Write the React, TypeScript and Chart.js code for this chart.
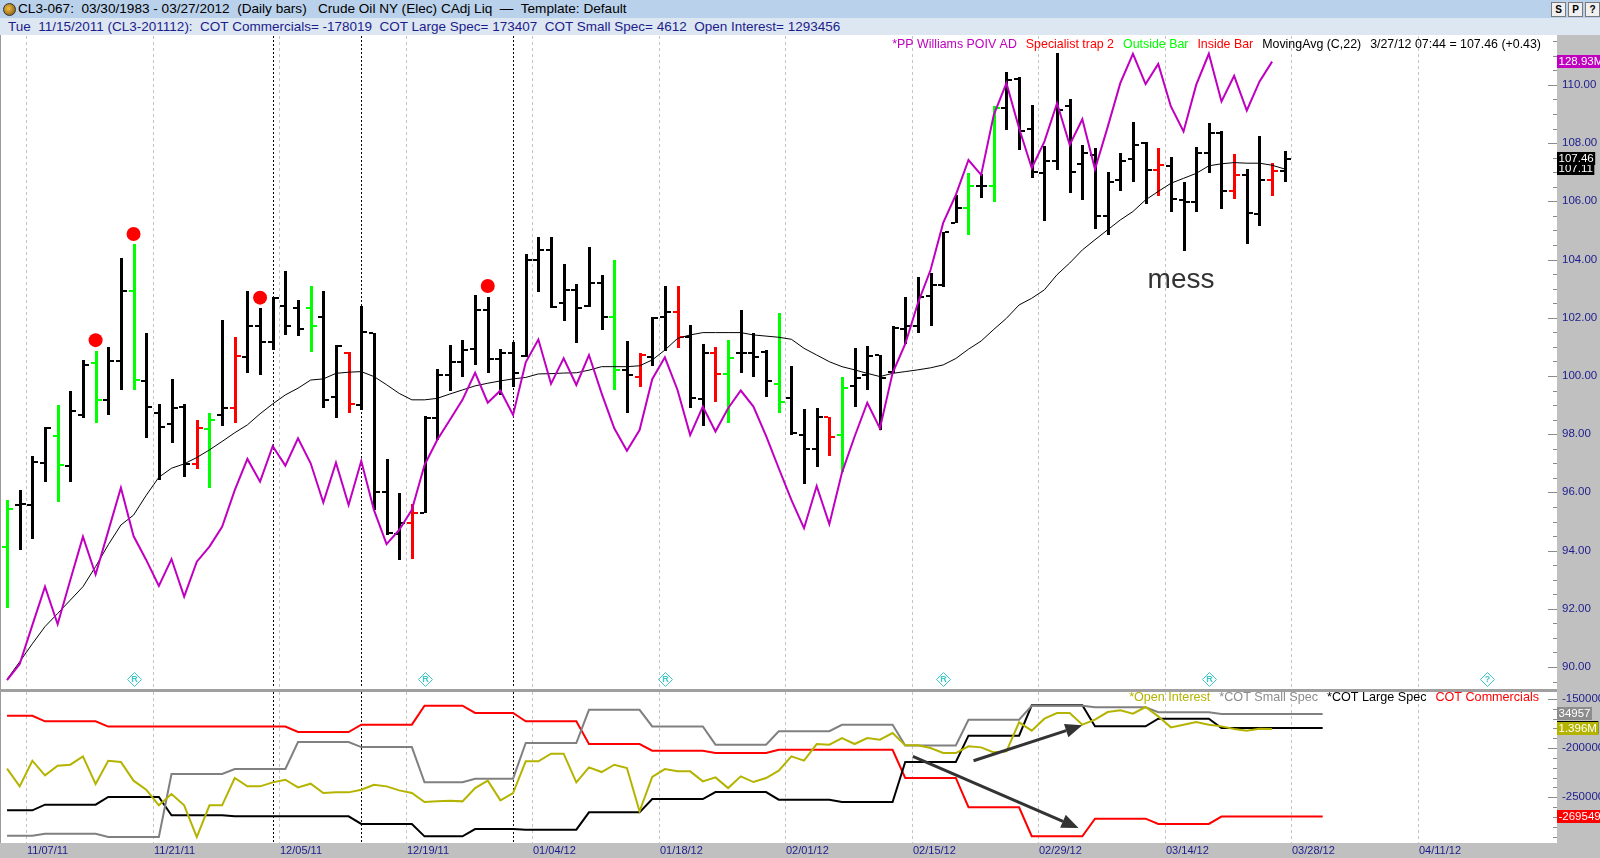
import React, { useEffect, useRef } from 'react';
import { Chart, registerables } from 'chart.js';

Chart.register(...registerables);

const FONT = '"Liberation Sans", Arial, Helvetica, sans-serif';
const NAVY = '#1c1c8c';
const AXIS_GRAY = '#c0c0c0';
const AXIS_LEFT = 1557;
const X_MIN = -0.32;
const X_MAX = 121.81;

// ---------------- x axis ----------------
const dateLabels = ['11/07/11', '11/21/11', '12/05/11', '12/19/11', '01/04/12', '01/18/12', '02/01/12', '02/15/12', '02/29/12', '03/14/12', '03/28/12', '04/11/12'];
const dateLabelBars = [2, 12, 22, 32, 42, 52, 62, 72, 82, 92, 102, 112];
const eventLineBars = [21, 28, 40];

// ---------------- price bars (CL3 daily) ----------------
const opens = [94.13, 95.55, 95.57, 97.02, 97.94, 96.91, 98.66, 100.46, 99.18, 100.5,
  102.93, 99.83, 98.72, 98.35, 98.95, 96.96, 98.17, 98.66, 98.91, 100.66,
  101.7, 101.16, 102.41, 102.35, 102.33, 102.04, 99.29, 100.78, 99.0, 101.47,
  96.03, 94.56, 94.94, 95.28, 98.55, 100.03, 100.49, 100.93, 102.27, 100.58,
  100.78, 100.7, 104.0, 104.33, 102.5, 102.96, 102.4, 103.21, 102.02, 100.21,
  99.98, 100.66, 102.04, 102.21, 101.35, 99.21, 100.78, 100.07, 100.8, 100.78,
  100.84, 99.73, 99.23, 97.97, 97.48, 98.58, 97.97, 99.67, 100.03, 100.72,
  100.15, 101.6, 101.72, 102.75, 103.13, 105.27, 105.76, 106.51, 106.51, 109.2,
  110.19, 108.48, 106.99, 107.4, 109.26, 107.29, 107.59, 105.48, 106.74, 107.45,
  108.02, 107.06, 107.22, 106.03, 105.96, 107.67, 108.34, 106.37, 106.91, 105.57,
  106.74, 107.03];
const highs = [95.74, 96.08, 97.25, 98.24, 99.0, 99.5, 100.55, 100.87, 100.99, 104.07,
  104.52, 101.47, 99.04, 99.89, 99.04, 98.49, 98.72, 101.92, 101.35, 102.92,
  102.33, 102.73, 103.62, 102.61, 103.09, 102.92, 101.07, 100.81, 102.41, 101.47,
  97.14, 95.97, 95.6, 98.63, 100.24, 101.07, 101.24, 102.78, 102.73, 100.92,
  101.18, 104.2, 104.77, 104.77, 103.84, 103.16, 104.44, 103.47, 104.0, 101.21,
  100.78, 102.02, 103.1, 103.1, 101.75, 101.1, 101.01, 101.24, 102.25, 101.49,
  100.89, 102.15, 100.34, 98.85, 98.89, 98.58, 99.98, 100.95, 101.03, 100.72,
  101.7, 102.73, 103.39, 103.53, 104.96, 106.22, 106.99, 106.94, 109.26, 110.46,
  110.26, 109.31, 107.9, 111.09, 109.51, 107.94, 107.82, 107.02, 107.67, 108.71,
  108.05, 107.82, 107.54, 106.68, 107.86, 108.68, 108.4, 107.63, 107.1, 108.25,
  107.31, 107.73];
const lows = [92.03, 94.02, 94.39, 96.37, 95.68, 96.37, 98.55, 98.37, 98.66, 99.52,
  99.52, 97.86, 96.43, 97.69, 96.54, 96.79, 96.14, 98.29, 98.37, 100.09,
  100.03, 100.89, 101.41, 101.39, 100.84, 98.89, 98.55, 98.72, 98.83, 95.4,
  94.54, 93.68, 93.71, 95.28, 97.8, 99.5, 99.98, 100.38, 100.11, 99.35,
  99.63, 100.65, 102.9, 102.33, 101.9, 101.12, 102.36, 101.58, 99.52, 98.72,
  99.63, 100.34, 100.87, 100.95, 98.89, 98.28, 99.12, 98.4, 100.09, 99.98,
  99.29, 98.72, 97.97, 96.29, 96.88, 97.25, 96.71, 98.95, 99.52, 98.14,
  100.09, 101.1, 101.47, 101.72, 103.07, 105.25, 104.85, 106.1, 105.96, 108.45,
  107.77, 106.79, 105.34, 107.08, 106.3, 106.03, 105.04, 104.85, 106.37, 106.68,
  105.91, 106.19, 105.65, 104.31, 105.65, 106.99, 105.73, 106.07, 104.54, 105.15,
  106.19, 106.68];
const closes = [95.43, 95.6, 97.05, 98.2, 96.94, 98.8, 100.38, 99.18, 100.5, 102.93,
  99.86, 98.95, 98.24, 98.91, 96.98, 98.2, 98.49, 98.91, 100.69, 101.7,
  101.16, 102.67, 101.72, 101.62, 101.72, 99.18, 101.03, 99.04, 101.52, 96.03,
  94.59, 94.94, 95.28, 98.55, 100.03, 100.49, 100.89, 102.27, 100.58, 100.78,
  100.09, 104.0, 104.33, 102.36, 102.96, 102.33, 103.21, 102.02, 100.21, 100.03,
  100.72, 101.98, 102.21, 101.35, 99.23, 100.78, 100.07, 100.61, 100.78, 100.66,
  99.84, 99.12, 98.03, 97.48, 98.6, 97.92, 99.58, 99.92, 100.69, 99.92,
  101.64, 101.72, 102.7, 103.14, 104.93, 105.76, 106.51, 106.51, 109.2, 110.17,
  108.4, 107.02, 107.4, 109.14, 107.02, 107.65, 105.5, 106.68, 107.4, 107.94,
  107.06, 107.25, 106.07, 105.96, 107.67, 108.34, 106.37, 106.91, 105.61, 106.74,
  107.03, 107.46];
const outsideBars = [0, 4, 7, 10, 16, 24, 48, 57, 61, 66, 76, 78];
const insideBars = [15, 18, 27, 32, 50, 53, 56, 65, 91, 97, 100];
const specialistTrapBars = [7, 10, 20, 38];
const TRAP_DOT_OFFSET = 0.36;

// PP Williams POIV AD (overlay, expressed on the price pane)
const poivAD = [89.55, 90.1, 91.44, 92.76, 91.47, 92.99, 94.48, 93.18, 94.67, 96.16,
  94.5, 93.68, 92.79, 93.71, 92.42, 93.62, 94.14, 94.82, 96.08, 97.15,
  96.37, 97.59, 96.92, 97.86, 97.0, 95.65, 97.02, 95.57, 97.08, 95.4,
  94.22, 94.71, 95.4, 96.94, 97.8, 98.49, 99.18, 100.11, 99.08, 99.5,
  98.66, 100.47, 101.25, 99.73, 100.61, 99.69, 100.72, 99.4, 98.2, 97.43,
  98.14, 99.89, 100.64, 99.52, 97.97, 98.95, 98.09, 98.89, 99.5, 98.95,
  97.94, 96.83, 95.74, 94.77, 96.22, 94.91, 96.68, 97.92, 99.08, 98.2,
  100.1, 101.1, 102.5, 103.64, 105.26, 106.22, 107.42, 106.91, 108.97, 110.06,
  108.51, 107.14, 108.05, 109.37, 107.94, 108.82, 107.1, 108.55, 110.06, 111.07,
  110.03, 110.72, 109.26, 108.4, 110.0, 111.07, 109.43, 110.31, 109.12, 110.11,
  110.8];
const poivLastLabel = '128.93M';

const movingAvg22 = [89.58, 90.18, 90.8, 91.39, 91.84, 92.3, 92.76, 93.45, 94.2, 94.88,
  95.22, 95.9, 96.52, 96.83, 96.98, 97.2, 97.46, 97.75, 98.05, 98.32,
  98.7, 99.04, 99.35, 99.58, 99.86, 99.9, 100.09, 100.13, 100.15, 99.98,
  99.7, 99.4, 99.18, 99.18, 99.23, 99.38, 99.52, 99.66, 99.75, 99.83,
  99.9, 99.95, 100.07, 100.08, 100.1, 100.11, 100.2, 100.32, 100.32, 100.32,
  100.35, 100.55, 100.89, 101.29, 101.41, 101.49, 101.49, 101.49, 101.49, 101.41,
  101.37, 101.33, 101.26, 100.95, 100.72, 100.49, 100.32, 100.21, 100.09, 99.98,
  100.09, 100.15, 100.21, 100.28, 100.38, 100.6, 100.92, 101.2, 101.6, 101.98,
  102.44, 102.67, 102.96, 103.48, 103.88, 104.33, 104.68, 105.02, 105.36, 105.65,
  106.05, 106.34, 106.62, 106.79, 106.96, 107.22, 107.29, 107.33, 107.31, 107.31,
  107.24, 107.11];

const priceTicks = [90, 92, 94, 96, 98, 100, 102, 104, 106, 108, 110];
const lastBarStamp = '3/27/12 07:44';
const rolloverBars = [10, 33, 52, 74, 95, 117];
const rolloverGlyphs = ['R', 'R', 'R', 'R', 'R', '?'];
const messNote = { text: 'mess', bar: 92.8, price: 103.02 };

// ---------------- COT / open interest pane ----------------
const cotCommercials = [-167000, -167000, -167000,
  -172700, -172700, -172700, -172700, -172700,
  -178019, -178019, -178019, -178019, -178019, -178019, -178019, -178019, -178019, -178019, -178019, -178019, -178019, -178019, -178019,
  -183600, -183600, -183600, -183600, -183600,
  -176100, -176100, -176100, -176100, -176100,
  -156800, -156800, -156800, -156800,
  -164200, -164200, -164200, -164200,
  -172700, -172700, -172700, -172700, -172700,
  -195800, -195800, -195800, -195800, -195800,
  -202600, -202600, -202600, -202600, -202600,
  -204900, -204900, -204900, -204900, -204900,
  -201600, -201600, -201600, -201600, -201600, -201600, -201600, -201600, -201600, -201600,
  -230300, -230300, -230300, -230300, -230300,
  -260100, -260100, -260100, -260100, -260100,
  -289600, -289600, -289600, -289600, -289600,
  -271700, -271700, -271700, -271700, -271700,
  -277100, -277100, -277100, -277100, -277100,
  -269549, -269549, -269549, -269549, -269549, -269549, -269549, -269549, -269549];
const cotLargeSpec = [161600, 161600, 161600,
  166600, 166600, 166600, 166600, 166600,
  173407, 173407, 173407, 173407, 173407,
  157200, 157200, 157200, 157200, 157200,
  156300, 156300, 156300, 156300, 156300, 156300, 156300, 156300, 156300, 156300,
  149500, 149500, 149500, 149500, 149500,
  138500, 138500, 138500, 138500,
  145000, 145000, 145000, 145000,
  144400, 144400, 144400, 144400, 144400,
  159800, 159800, 159800, 159800, 159800,
  171600, 171600, 171600, 171600, 171600,
  177800, 177800, 177800, 177800, 177800,
  171000, 171000, 171000, 171000, 171000,
  169000, 169000, 169000, 169000, 169000,
  204500, 204500, 204500, 204500, 204500,
  227800, 227800, 227800, 227800, 227800,
  254700, 254700, 254700, 254700, 254700,
  236100, 236100, 236100, 236100, 236100,
  242900, 242900, 242900, 242900, 242900,
  234600, 234600, 234600, 234600, 234600, 234600, 234600, 234600, 234600];
const cotSmallSpec = [4900, 4900, 4900,
  5400, 5400, 5400, 5400, 5400,
  4612, 4612, 4612, 4612, 4612,
  20150, 20150, 20150, 20150, 20150,
  21400, 21400, 21400, 21400, 21400,
  28050, 28050, 28050, 28050, 28050,
  26800, 26800, 26800, 26800, 26800,
  18100, 18100, 18100, 18100,
  19000, 19000, 19000, 19000,
  27800, 27800, 27800, 27800, 27800,
  36000, 36000, 36000, 36000, 36000,
  31900, 31900, 31900, 31900, 31900,
  27400, 27400, 27400, 27400, 27400,
  30700, 30700, 30700, 30700, 30700,
  32300, 32300, 32300, 32300, 32300,
  27200, 27200, 27200, 27200, 27200,
  33550, 33550, 33550, 33550, 33550,
  37000, 37000, 37000, 37000, 37000,
  36600, 36600, 36600, 36600, 36600,
  35400, 35400, 35400, 35400, 35400,
  34957, 34957, 34957, 34957, 34957, 34957, 34957, 34957, 34957];
const openInterest = [1267600, 1210400, 1293500, 1246000, 1277300, 1280500, 1307500, 1218000, 1293456, 1289100,
  1228800, 1199600, 1149000, 1185600, 1149000, 1046500, 1149000, 1149000, 1237400, 1210400,
  1210400, 1223400, 1232000, 1207200, 1219100, 1188900, 1191000, 1191000, 1199600, 1215800,
  1210400, 1197500, 1188900, 1159700, 1161900, 1164100, 1161900, 1205000, 1228800, 1165100,
  1188900, 1291300, 1291300, 1316100, 1316100, 1223400, 1271900, 1256800, 1280500, 1269700,
  1129600, 1241000, 1266500, 1259000, 1259000, 1226600, 1239500, 1205000, 1242800, 1224400,
  1237400, 1261100, 1307500, 1293500, 1347400, 1345200, 1366800, 1347400, 1366800, 1361400,
  1383000, 1343100, 1343100, 1334400, 1318300, 1318300, 1339800, 1336600, 1320400, 1323600,
  1417500, 1390500, 1429300, 1447700, 1447700, 1409900, 1426100, 1450900, 1456300, 1445500,
  1467100, 1436900, 1401300, 1409900, 1418500, 1409900, 1404500, 1395900, 1390500, 1397000,
  1396000];
const commTicks = [-150000, -200000, -250000];
const cotArrows = [
  { from: [76.4, -212750], to: [85.0, -176750] },
  { from: [71.6, -208270], to: [84.7, -281200] },
];

const mainLegend = [
  { text: '*PP Williams POIV AD', color: '#c000c0' },
  { text: 'Specialist trap 2', color: '#ff0000' },
  { text: 'Outside Bar', color: '#00ff00' },
  { text: 'Inside Bar', color: '#ff0000' },
  { text: 'MovingAvg (C,22)', color: '#000000' },
];
const lowerLegend = [
  { text: '*Open Interest', color: '#b4b400' },
  { text: '*COT Small Spec', color: '#8c8c8c' },
  { text: '*COT Large Spec', color: '#000000' },
  { text: 'COT Commercials', color: '#ff0000' },
];

// ---------------- helpers ----------------
const pts = (arr: number[]) => arr.map((v, i) => ({ x: i, y: v }));

function drawVerticalGuides(ctx: any, xs: any, top: number, bottom: number) {
  ctx.save();
  ctx.lineWidth = 1;
  ctx.strokeStyle = '#c4c4c4';
  ctx.setLineDash([3, 3]);
  dateLabelBars.forEach((b) => {
    const px = Math.round(xs.getPixelForValue(b - 0.5)) + 0.5;
    ctx.beginPath(); ctx.moveTo(px, top); ctx.lineTo(px, bottom); ctx.stroke();
  });
  ctx.strokeStyle = '#000000';
  ctx.setLineDash([2, 2]);
  eventLineBars.forEach((b) => {
    const px = Math.round(xs.getPixelForValue(b)) + 0.5;
    ctx.beginPath(); ctx.moveTo(px, top); ctx.lineTo(px, bottom); ctx.stroke();
  });
  ctx.restore();
}

function drawAxisTicks(ctx: any, ys: any, top: number, bottom: number, minorStep: number, majorStep: number, lo: number, hi: number) {
  ctx.save();
  ctx.strokeStyle = '#8a8a8a';
  ctx.lineWidth = 1;
  for (let v = lo; v <= hi + 1e-9; v += minorStep) {
    const py = Math.round(ys.getPixelForValue(v)) + 0.5;
    if (py < top || py > bottom) continue;
    const isMajor = Math.abs(v / majorStep - Math.round(v / majorStep)) < 1e-6;
    ctx.beginPath();
    ctx.moveTo(isMajor ? AXIS_LEFT - 9 : AXIS_LEFT - 4, py);
    ctx.lineTo(AXIS_LEFT, py);
    ctx.stroke();
  }
  ctx.restore();
}

function valueBox(ctx: any, y: number, text: string, bg: string, fg = '#ffffff') {
  ctx.save();
  ctx.font = `11.5px ${FONT}`;
  const w = ctx.measureText(text).width + 3;
  ctx.fillStyle = bg;
  ctx.fillRect(AXIS_LEFT, Math.round(y) - 7, w, 13);
  ctx.fillStyle = fg;
  ctx.textBaseline = 'middle';
  ctx.textAlign = 'left';
  ctx.fillText(text, AXIS_LEFT + 1.5, Math.round(y));
  ctx.restore();
}

function drawLegendRow(ctx: any, items: { text: string; color: string }[], right: number, y: number, size: number) {
  ctx.save();
  ctx.font = `${size}px ${FONT}`;
  ctx.textBaseline = 'middle';
  ctx.textAlign = 'left';
  let x = right;
  for (let k = items.length - 1; k >= 0; k--) {
    const w = ctx.measureText(items[k].text).width;
    x -= w;
    ctx.fillStyle = items[k].color;
    ctx.fillText(items[k].text, x, y);
    x -= 9;
  }
  ctx.restore();
}

function barColor(i: number) {
  if (outsideBars.includes(i)) return '#00ff00';
  if (insideBars.includes(i)) return '#ff0000';
  return '#000000';
}

// ---------------- plugins ----------------
const mainDecor = {
  id: 'mainDecor',
  beforeDraw(chart: any) {
    const { ctx, chartArea: a } = chart;
    ctx.save();
    ctx.fillStyle = '#ffffff';
    ctx.fillRect(0, 0, AXIS_LEFT, a.bottom + 1);
    ctx.fillStyle = AXIS_GRAY;
    ctx.fillRect(AXIS_LEFT, 0, chart.width - AXIS_LEFT, chart.height);
    ctx.fillStyle = '#a0a0a0';
    ctx.fillRect(0, a.bottom + 1, AXIS_LEFT, chart.height - a.bottom - 1);
    ctx.fillStyle = '#9a9a9a';
    ctx.fillRect(0, 0, 1, a.bottom + 1);
    ctx.restore();
    drawVerticalGuides(ctx, chart.scales.x, a.top, a.bottom);
  },
  beforeDatasetsDraw(chart: any) {
    const { ctx } = chart;
    const xs = chart.scales.x;
    const ys = chart.scales.y;
    ctx.save();
    for (let i = 0; i < closes.length; i++) {
      ctx.fillStyle = barColor(i);
      const px = Math.round(xs.getPixelForValue(i));
      const yh = Math.round(ys.getPixelForValue(highs[i]));
      const yl = Math.round(ys.getPixelForValue(lows[i]));
      const yo = Math.round(ys.getPixelForValue(opens[i]));
      const yc = Math.round(ys.getPixelForValue(closes[i]));
      ctx.fillRect(px - 1, yh, 3, Math.max(1, yl - yh));
      ctx.fillRect(px - 5, yo - 1, 4, 2);
      ctx.fillRect(px + 2, yc - 1, 4, 2);
    }
    ctx.restore();
  },
  afterDraw(chart: any) {
    const { ctx, chartArea: a } = chart;
    const xs = chart.scales.x;
    const ys = chart.scales.y;
    // right axis
    drawAxisTicks(ctx, ys, a.top, a.bottom, 0.5, 2, 89, 112);
    ctx.save();
    ctx.font = `11.5px ${FONT}`;
    ctx.fillStyle = NAVY;
    ctx.textBaseline = 'middle';
    ctx.textAlign = 'left';
    priceTicks.forEach((v) => ctx.fillText(v.toFixed(2), AXIS_LEFT + 5, Math.round(ys.getPixelForValue(v))));
    ctx.restore();
    const last = closes.length - 1;
    valueBox(ctx, ys.getPixelForValue(poivAD[poivAD.length - 1]), poivLastLabel, '#c000c0');
    valueBox(ctx, ys.getPixelForValue(movingAvg22[last]), movingAvg22[last].toFixed(2), '#000000');
    valueBox(ctx, ys.getPixelForValue(closes[last]), closes[last].toFixed(2), '#000000');
    // legend
    const chg = closes[last] - closes[last - 1];
    const stamp = `${lastBarStamp} = ${closes[last].toFixed(2)} (${chg >= 0 ? '+' : ''}${chg.toFixed(2)})`;
    drawLegendRow(ctx, [...mainLegend, { text: stamp, color: '#000000' }], 1541, a.top + 9, 12.4);
    // note
    ctx.save();
    ctx.font = `28px ${FONT}`;
    ctx.fillStyle = '#333333';
    ctx.textAlign = 'center';
    ctx.textBaseline = 'alphabetic';
    ctx.fillText(messNote.text, xs.getPixelForValue(messNote.bar), ys.getPixelForValue(messNote.price));
    ctx.restore();
    // rollover diamonds
    ctx.save();
    ctx.strokeStyle = '#3cc8c8';
    ctx.fillStyle = '#3cc8c8';
    ctx.lineWidth = 1;
    ctx.font = `bold 9px ${FONT}`;
    ctx.textAlign = 'center';
    ctx.textBaseline = 'middle';
    rolloverBars.forEach((b, k) => {
      const cx = Math.round(xs.getPixelForValue(b)) + 0.5;
      const cy = a.bottom - 8.5;
      ctx.beginPath();
      ctx.moveTo(cx, cy - 7); ctx.lineTo(cx + 7, cy); ctx.lineTo(cx, cy + 7); ctx.lineTo(cx - 7, cy); ctx.closePath();
      ctx.stroke();
      ctx.fillText(rolloverGlyphs[k], cx, cy + 0.5);
    });
    ctx.restore();
  },
};

const lowerDecor = {
  id: 'lowerDecor',
  beforeDraw(chart: any) {
    const { ctx, chartArea: a } = chart;
    ctx.save();
    ctx.fillStyle = AXIS_GRAY;
    ctx.fillRect(0, 0, chart.width, chart.height);
    ctx.fillStyle = '#a0a0a0';
    ctx.fillRect(0, 0, AXIS_LEFT, a.top);
    ctx.fillStyle = '#ffffff';
    ctx.fillRect(0, a.top, AXIS_LEFT, a.bottom - a.top);
    ctx.fillStyle = '#9a9a9a';
    ctx.fillRect(0, a.top, 1, a.bottom - a.top);
    ctx.restore();
    drawVerticalGuides(ctx, chart.scales.x, a.top, a.bottom);
  },
  afterDatasetsDraw(chart: any) {
    const { ctx } = chart;
    const xs = chart.scales.x;
    const ys = chart.scales.yComm;
    ctx.save();
    ctx.strokeStyle = '#333333';
    ctx.fillStyle = '#333333';
    ctx.lineWidth = 3;
    cotArrows.forEach((ar) => {
      const x0 = xs.getPixelForValue(ar.from[0]);
      const y0 = ys.getPixelForValue(ar.from[1]);
      const x1 = xs.getPixelForValue(ar.to[0]);
      const y1 = ys.getPixelForValue(ar.to[1]);
      const ang = Math.atan2(y1 - y0, x1 - x0);
      const hl = 17;
      const hw = 7;
      const bx = x1 - hl * Math.cos(ang);
      const by = y1 - hl * Math.sin(ang);
      ctx.beginPath(); ctx.moveTo(x0, y0); ctx.lineTo(bx, by); ctx.stroke();
      ctx.beginPath();
      ctx.moveTo(x1, y1);
      ctx.lineTo(bx + hw * Math.sin(ang), by - hw * Math.cos(ang));
      ctx.lineTo(bx - hw * Math.sin(ang), by + hw * Math.cos(ang));
      ctx.closePath();
      ctx.fill();
    });
    ctx.restore();
  },
  afterDraw(chart: any) {
    const { ctx, chartArea: a } = chart;
    const xs = chart.scales.x;
    const yc = chart.scales.yComm;
    drawAxisTicks(ctx, yc, a.top, a.bottom, 10000, 50000, -300000, -140000);
    ctx.save();
    ctx.font = `11.5px ${FONT}`;
    ctx.fillStyle = NAVY;
    ctx.textBaseline = 'middle';
    ctx.textAlign = 'left';
    commTicks.forEach((v) => ctx.fillText(String(v), AXIS_LEFT + 5, Math.round(yc.getPixelForValue(v))));
    ctx.font = `11px ${FONT}`;
    dateLabels.forEach((t, k) => {
      const px = Math.round(xs.getPixelForValue(dateLabelBars[k] - 0.5)) + 1;
      ctx.fillText(t, px, a.bottom + 8);
    });
    ctx.restore();
    // value boxes
    const lc = cotCommercials.length - 1;
    const lo = openInterest.length - 1;
    valueBox(ctx, chart.scales.yLarge.getPixelForValue(cotLargeSpec[lc]), String(cotLargeSpec[lc]), '#000000');
    valueBox(ctx, chart.scales.yOI.getPixelForValue(openInterest[lo]), (openInterest[lo] / 1e6).toFixed(3) + 'M', '#b4b400');
    valueBox(ctx, chart.scales.ySmall.getPixelForValue(cotSmallSpec[lc]), String(cotSmallSpec[lc]), '#8c8c8c');
    valueBox(ctx, yc.getPixelForValue(cotCommercials[lc]), String(cotCommercials[lc]), '#ff0000');
    drawLegendRow(ctx, lowerLegend, 1539, a.top + 6, 12.6);
  },
};

export default function App() {
  const mainRef = useRef<HTMLCanvasElement>(null);
  const lowerRef = useRef<HTMLCanvasElement>(null);

  useEffect(() => {
    document.body.style.margin = '0';
    const common: any = {
      animation: false,
      responsive: false,
      devicePixelRatio: 1,
      events: [],
      plugins: { legend: { display: false }, tooltip: { enabled: false } },
    };
    const main = new Chart(mainRef.current as HTMLCanvasElement, {
      type: 'line',
      data: {
        datasets: [
          { label: 'Specialist trap 2', data: specialistTrapBars.map((i) => ({ x: i, y: highs[i] + TRAP_DOT_OFFSET })), showLine: false, pointRadius: 7, pointHoverRadius: 7, pointBackgroundColor: '#ff0000', pointBorderWidth: 0, borderColor: '#ff0000', order: 0 },
          { label: '*PP Williams POIV AD', data: pts(poivAD), borderColor: '#c000c0', borderWidth: 2, pointRadius: 0, tension: 0, order: 1 },
          { label: 'MovingAvg (C,22)', data: pts(movingAvg22), borderColor: '#000000', borderWidth: 1, pointRadius: 0, tension: 0, order: 2 },
        ],
      } as any,
      options: {
        ...common,
        layout: { autoPadding: false, padding: { left: 3, right: 1600 - 1548, top: 1, bottom: 3 } },
        scales: {
          x: { type: 'linear', display: false, min: X_MIN, max: X_MAX },
          y: { type: 'linear', display: false, min: 89.28, max: 111.68 },
        },
      },
      plugins: [mainDecor],
    } as any);

    const lower = new Chart(lowerRef.current as HTMLCanvasElement, {
      type: 'line',
      data: {
        datasets: [
          { label: '*Open Interest', yAxisID: 'yOI', data: pts(openInterest), borderColor: '#b4b400', borderWidth: 2, pointRadius: 0, tension: 0, order: 0 },
          { label: '*COT Small Spec', yAxisID: 'ySmall', data: pts(cotSmallSpec), borderColor: '#808080', borderWidth: 2, pointRadius: 0, tension: 0, order: 1 },
          { label: '*COT Large Spec', yAxisID: 'yLarge', data: pts(cotLargeSpec), borderColor: '#000000', borderWidth: 2, pointRadius: 0, tension: 0, order: 2 },
          { label: 'COT Commercials', yAxisID: 'yComm', data: pts(cotCommercials), borderColor: '#ff0000', borderWidth: 2, pointRadius: 0, tension: 0, order: 3 },
        ],
      } as any,
      options: {
        ...common,
        layout: { autoPadding: false, padding: { left: 3, right: 1600 - 1548, top: 1, bottom: 15 } },
        scales: {
          x: { type: 'linear', display: false, min: X_MIN, max: X_MAX },
          yComm: { type: 'linear', display: false, min: -296448, max: -142881 },
          yLarge: { type: 'linear', display: false, min: 132605, max: 266542 },
          ySmall: { type: 'linear', display: false, min: 3132, max: 40384 },
          yOI: { type: 'linear', display: false, min: 1027215, max: 1515701 },
        },
      },
      plugins: [lowerDecor],
    } as any);

    return () => {
      main.destroy();
      lower.destroy();
    };
  }, []);

  const btn = (left: number, text: string) => (
    <div style={{ position: 'absolute', left, top: 2, width: 13, height: 13, background: '#f0f0f0', border: '1px solid #7a7a7a', fontSize: 10, fontWeight: 'bold', lineHeight: '13px', textAlign: 'center', color: '#000' }}>{text}</div>
  );

  return (
    <div style={{ position: 'absolute', left: 0, top: 0, width: 1600, height: 858, background: AXIS_GRAY, overflow: 'hidden', fontFamily: FONT }}>
      <div style={{ position: 'absolute', left: 0, top: 0, width: 1600, height: 18, background: '#b9d1ea' }}>
        <div style={{ position: 'absolute', left: 3, top: 3, width: 11, height: 11, borderRadius: '50%', background: 'radial-gradient(circle at 40% 40%, #f0c040, #7a4a10)', border: '1px solid #333' }} />
        <div style={{ position: 'absolute', left: 18, top: 1, fontSize: 13.6, whiteSpace: 'pre', color: '#000' }}>
          {'CL3-067:  03/30/1983 - 03/27/2012  (Daily bars)   Crude Oil NY (Elec) CAdj Liq  \u2014  Template: Default'}
        </div>
        {btn(1551, 'S')}
        {btn(1568, 'P')}
        {btn(1585, '?')}
      </div>
      <div style={{ position: 'absolute', left: 0, top: 18, width: 1600, height: 17, background: '#dde7f2' }}>
        <div style={{ position: 'absolute', left: 8, top: 1, fontSize: 13.5, whiteSpace: 'pre', color: NAVY }}>
          {'Tue  11/15/2011 (CL3-201112):  COT Commercials= -178019  COT Large Spec= 173407  COT Small Spec= 4612  Open Interest= 1293456'}
        </div>
      </div>
      <canvas ref={mainRef} width={1600} height={656} style={{ position: 'absolute', left: 0, top: 35, width: 1600, height: 656 }} />
      <canvas ref={lowerRef} width={1600} height={167} style={{ position: 'absolute', left: 0, top: 691, width: 1600, height: 167 }} />
    </div>
  );
}
